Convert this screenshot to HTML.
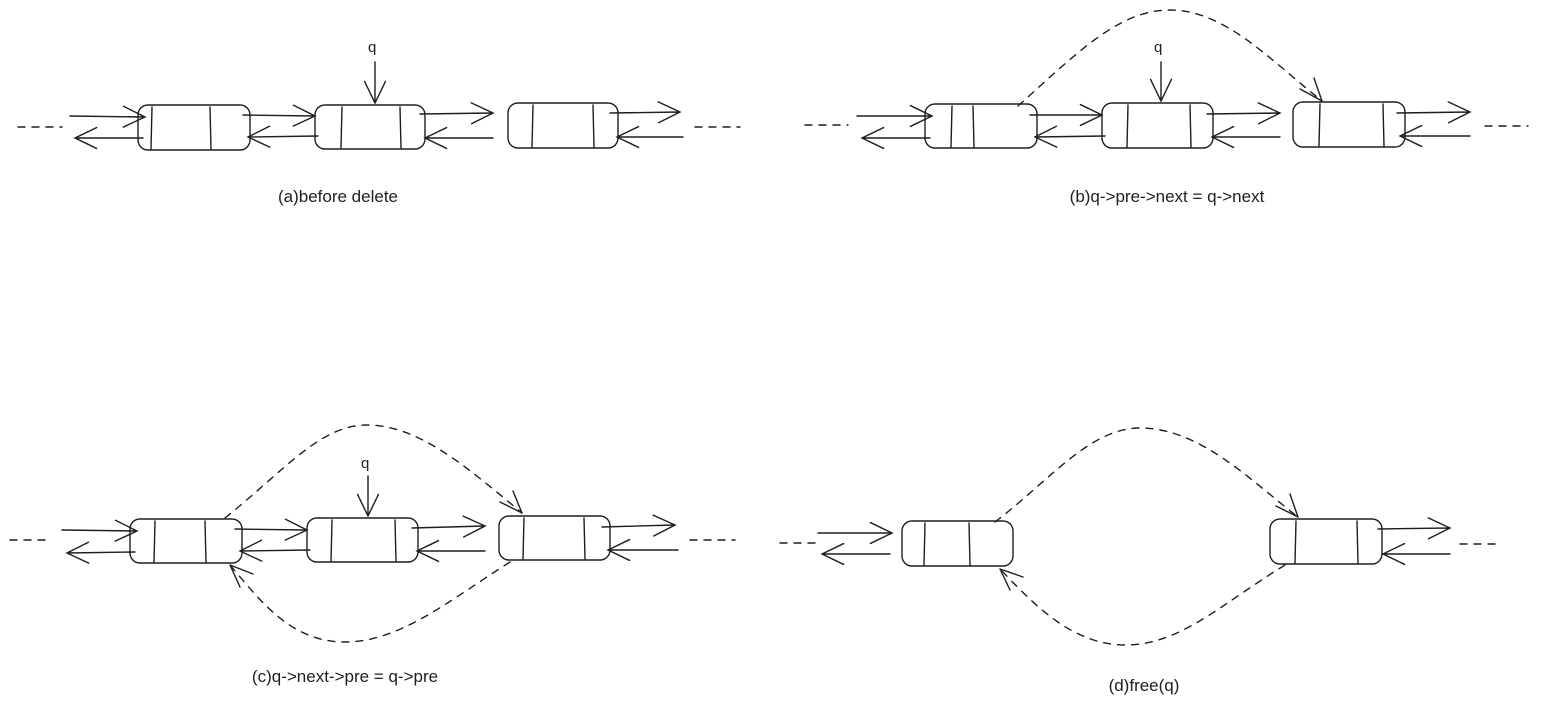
<!DOCTYPE html>
<html><head><meta charset="utf-8"><style>
html,body{margin:0;padding:0;background:#fff;width:1542px;height:707px;overflow:hidden}
svg{display:block}
text{font-family:"Liberation Sans",sans-serif;font-size:17px;fill:#1e1e1e}
</style></head><body>
<svg id="s" width="1542" height="707" viewBox="0 0 1542 707" xmlns="http://www.w3.org/2000/svg" fill="none" stroke="#1e1e1e" stroke-width="1.4" stroke-linecap="round">
<g id="g"></g>
<g stroke-dasharray="7 7">
<path d="M18 127 H62 M695 127 H740"/>
<path d="M805 125 H848 M1485 126 H1528"/>
<path d="M10 540 H52 M690 540 H735"/>
<path d="M780 543 H822 M1460 544 H1502"/>
<path d="M1018 106 C1080 50 1120 10 1170 10 C1225 10 1270 60 1322 101"/>
<path d="M225 518 C285 470 320 425 367 425 C420 425 470 470 522 513"/>
<path d="M510 562 C450 600 400 642 345 642 C290 642 260 600 230 565"/>
<path d="M995 522 C1050 480 1090 428 1140 428 C1200 428 1250 480 1298 517"/>
<path d="M1285 565 C1220 605 1180 645 1125 645 C1070 645 1030 600 1000 569"/>
</g>
<g stroke-dasharray="none">
<path d="M1322 101 L1300 89 M1322 101 L1314 78"/>
<path d="M522 513 L500 502 M522 513 L513 491"/>
<path d="M230 565 L253 574 M230 565 L240 587"/>
<path d="M1298 517 L1276 506 M1298 517 L1290 494"/>
<path d="M1000 569 L1023 577 M1000 569 L1010 590"/>
</g>
<text x="368" y="52" style="font-size:15px" stroke="none">q</text>
<text x="1154" y="52" style="font-size:15px" stroke="none">q</text>
<text x="361" y="468" style="font-size:15px" stroke="none">q</text>
<text x="338" y="202" text-anchor="middle" stroke="none">(a)before delete</text>
<text x="1167" y="202" text-anchor="middle" stroke="none">(b)q-&gt;pre-&gt;next = q-&gt;next</text>
<text x="345" y="682" text-anchor="middle" stroke="none">(c)q-&gt;next-&gt;pre = q-&gt;pre</text>
<text x="1144" y="691" text-anchor="middle" stroke="none">(d)free(q)</text>
</svg>
<script>
var g=document.getElementById('g'),h='';
function node(x,y,w,ht,d1,d2){h+='<rect x="'+x+'" y="'+y+'" width="'+w+'" height="'+ht+'" rx="10"/>';
h+='<path d="M'+d1+' '+(y+2)+' L'+(d1-1)+' '+(y+ht-1)+' M'+d2+' '+(y+2)+' L'+(d2+1)+' '+(y+ht-1)+'"/>';}
function ar(x1,y1,x2,y2){var a=Math.atan2(y2-y1,x2-x1),L=24,s=0.45;
h+='<path d="M'+x1+' '+y1+' L'+x2+' '+y2+' M'+(x2-L*Math.cos(a-s))+' '+(y2-L*Math.sin(a-s))+' L'+x2+' '+y2+' L'+(x2-L*Math.cos(a+s))+' '+(y2-L*Math.sin(a+s))+'"/>';}
// a
node(138,105,112,45,152,210);node(315,105,110,44,342,400);node(508,103,110,45,533,593);
ar(70,116,145,117);ar(143,138,75,138);ar(243,115,315,116);ar(318,136,248,137);
ar(420,114,493,113);ar(493,138,425,138);ar(610,113,680,112);ar(683,137,617,137);
ar(375,62,375,103);
// b
node(925,104,112,44,952,973);node(1102,103,111,45,1128,1190);node(1293,102,112,45,1320,1383);
ar(857,116,932,116);ar(930,138,862,138);ar(1030,115,1102,115);ar(1105,136,1035,137);
ar(1207,114,1280,113);ar(1280,137,1212,137);ar(1397,113,1470,112);ar(1470,136,1400,136);
ar(1161,62,1161,101);
// c
node(130,519,112,44,155,205);node(307,518,111,44,332,395);node(499,516,111,44,524,584);
ar(62,530,137,531);ar(135,552,67,553);ar(235,529,307,530);ar(310,550,240,551);
ar(412,528,485,526);ar(485,551,417,551);ar(602,527,675,525);ar(678,550,608,550);
ar(368,476,368,516);
// d
node(902,521,111,45,925,969);node(1270,519,112,45,1296,1357);
ar(818,533,892,533);ar(890,554,822,554);ar(1378,529,1450,528);ar(1450,554,1383,554);
g.innerHTML=h;
</script>
</body></html>
